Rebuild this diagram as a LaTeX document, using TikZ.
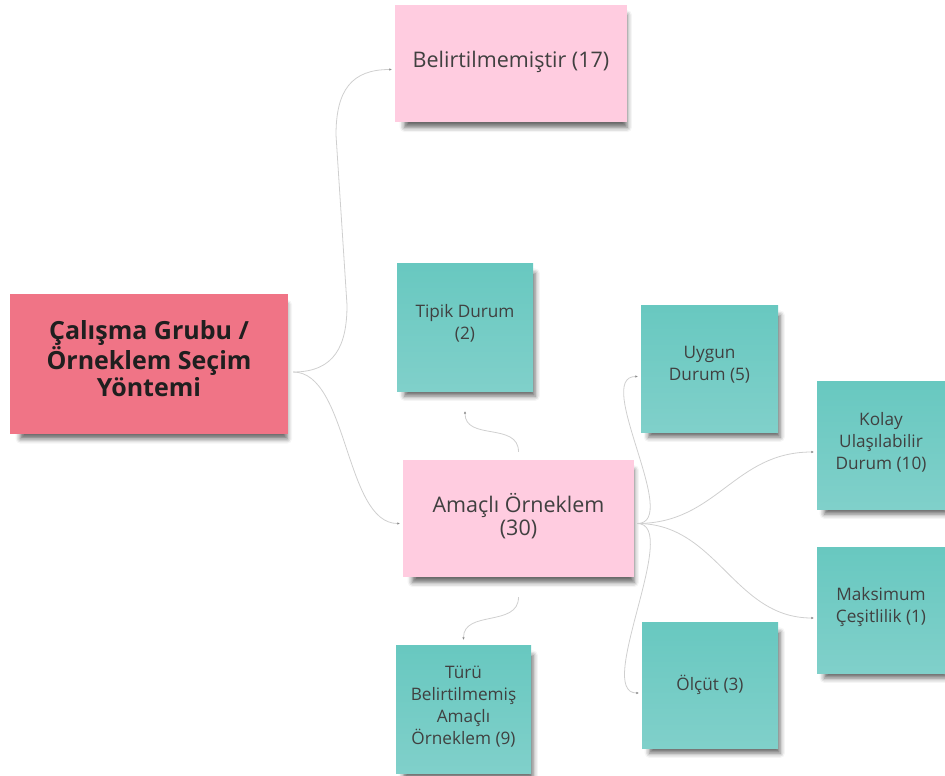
\documentclass[tikz,border=0pt]{standalone}
\usepackage{fontspec}
\setmainfont{Open Sans}
\usetikzlibrary{shadows.blur,arrows.meta,calc}
\definecolor{rootc}{HTML}{F07486}
\definecolor{pinkc}{HTML}{FFCCE0}
\definecolor{tealtop}{HTML}{68C8C0}
\definecolor{tealbot}{HTML}{80D0CA}
\definecolor{txt}{HTML}{404040}
\definecolor{linec}{HTML}{CFCFCF}
\definecolor{tipc}{HTML}{8A8A8A}
\begin{document}
\begin{tikzpicture}[x=1pt,y=-1pt,
  note/.style={rectangle, inner sep=0pt, align=center, text=txt,
    blur shadow={shadow xshift=5pt, shadow yshift=-8pt, shadow blur radius=5pt, shadow opacity=60, shadow scale=0.96}},
  rootnote/.style={note, fill=rootc, text=black!88, font=\fontsize{25}{27}\selectfont\bfseries},
  pinknote/.style={note, fill=pinkc, font=\fontsize{21.5}{23}\selectfont},
  tealnote/.style={note, top color=tealtop, bottom color=tealbot, font=\fontsize{17.2}{22}\selectfont},
  conn/.style={draw=linec, line width=0.8pt, -{Latex[length=2.5pt,width=2.5pt,color=tipc]}}
]
\useasboundingbox (0,0) rectangle (945,776);

\node[rootnote, minimum width=278pt, minimum height=140pt] (root) at (149,364) {Çalışma Grubu /\\Örneklem Seçim\\Yöntemi\\[-16pt]\mbox{}};
\node[pinknote, minimum width=232pt, minimum height=117pt] (bel) at (511,63.5) {Belirtilmemiştir (17)\\[-14pt]\mbox{}};
\node[tealnote, minimum width=136pt, minimum height=128pt] (tip) at (465,327) {Tipik Durum\\(2)\\[-12pt]\mbox{}};
\node[pinknote, minimum width=231pt, minimum height=117pt] (am) at (518.5,518.5) {Amaçlı Örneklem\\(30)\\[-15pt]\mbox{}};
\node[tealnote, minimum width=135pt, minimum height=128pt] (tur) at (463.5,709) {Türü\\Belirtilmemiş\\Amaçlı\\Örneklem (9)\\[-14pt]\mbox{}};
\node[tealnote, minimum width=137pt, minimum height=127pt] (uyg) at (709.5,368.5) {Uygun\\Durum (5)\\[-12pt]\mbox{}};
\node[tealnote, minimum width=128pt, minimum height=128pt] (kol) at (881,445) {Kolay\\Ulaşılabilir\\Durum (10)\\[-14pt]\mbox{}};
\node[tealnote, minimum width=128pt, minimum height=126pt] (mak) at (881,610) {Maksimum\\Çeşitlilik (1)\\[-12pt]\mbox{}};
\node[tealnote, minimum width=136pt, minimum height=126pt] (olc) at (710,685) {Ölçüt (3)};

\coordinate (rootE) at ([xshift=5pt,yshift=-8pt]root.east);
\coordinate (belW) at ([xshift=-3pt,yshift=-6pt]bel.west);
\coordinate (amW) at ([xshift=-3pt,yshift=-5pt]am.west);
\coordinate (amN) at ([yshift=8pt]am.north);
\coordinate (amS) at ([yshift=-20pt]am.south);
\coordinate (amE) at ([xshift=3pt,yshift=-5pt]am.east);
\coordinate (tipS) at ([yshift=-20pt]tip.south);
\coordinate (turN) at ([yshift=5pt]tur.north);
\coordinate (uygW) at ([xshift=-3pt,yshift=-8pt]uyg.west);
\coordinate (olcW) at ([xshift=-3pt,yshift=-8pt]olc.west);
\coordinate (kolW) at ([xshift=-3pt,yshift=-7pt]kol.west);
\coordinate (makW) at ([xshift=-3pt,yshift=-8pt]mak.west);
\coordinate (bendA) at (347,305);
\coordinate (bendB) at (336,135);

\draw[conn] (rootE) .. controls +(42,0) and +(0,40) .. (bendA) -- (bendB) .. controls +(0,-45) and +(-40,0) .. (belW);
\draw[conn] (rootE) .. controls +(55,0) and +(-55,0) .. (amW);
\draw[conn] (amN) .. controls +(0,-30) and +(0,30) .. (tipS);
\draw[conn] (amS) .. controls +(0,30) and +(0,-30) .. (turN);
\draw[conn] (amE) .. controls +(45,0) and +(-45,0) .. (uygW);
\draw[conn] (amE) .. controls +(45,0) and +(-45,0) .. (olcW);
\draw[conn] (amE) .. controls +(80,0) and +(-80,0) .. (kolW);
\draw[conn] (amE) .. controls +(80,0) and +(-80,0) .. (makW);
\end{tikzpicture}
\end{document}
